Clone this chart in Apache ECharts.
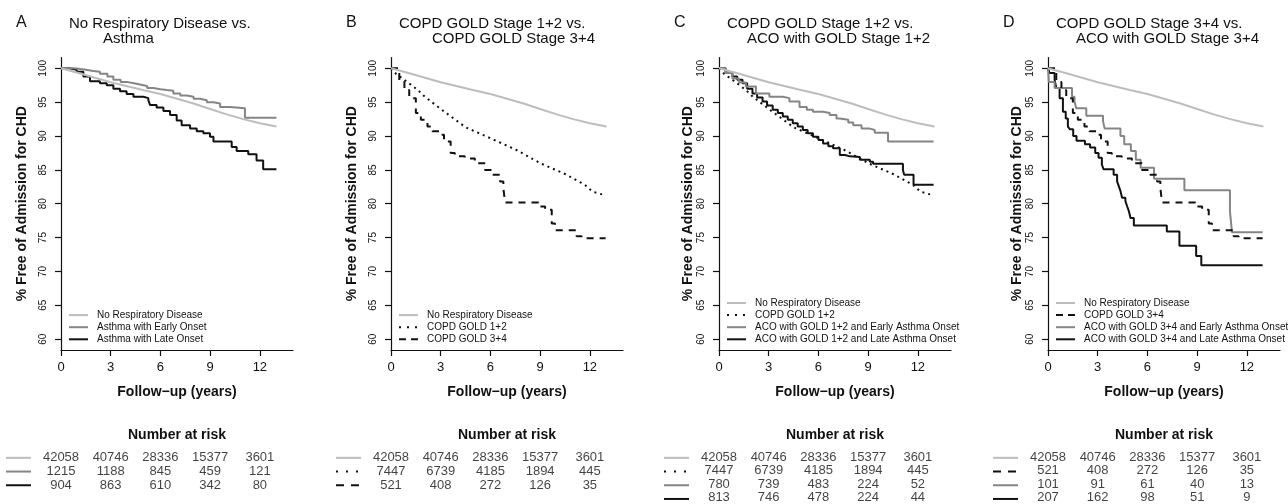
<!DOCTYPE html>
<html>
<head>
<meta charset="utf-8">
<script src="https://cdn.jsdelivr.net/npm/echarts@6/dist/echarts.min.js"></script>
<style>
  html, body { margin: 0; padding: 0; background: #fff; }
  #chart { width: 1288px; height: 504px; }
</style>
</head>
<body>
<div id="chart"></div>
<script>
// ---- data ----
var xTicks = [0, 3, 6, 9, 12];
var yTicks = [60, 65, 70, 75, 80, 85, 90, 95, 100];

// No respiratory disease (same curve in every panel)
var noRespTime = [0, 1, 2, 3, 4, 5, 6, 7, 8, 9, 10, 11, 12, 13];
var noRespSurv = [100, 99.35, 98.65, 97.95, 97.35, 96.75, 96.2, 95.5, 94.8, 94.0, 93.2, 92.5, 91.9, 91.4];

// A: asthma early / late onset
var earlyAsthmaTime = [0, 0.8, 1.5, 1.95, 2.35, 2.8, 3.16, 3.6, 3.96, 4.4, 4.77, 5.2, 5.57, 6.0, 6.38, 6.78, 7.2, 7.59, 8.0, 8.39, 8.8, 9.2, 9.6, 10.2, 11.1, 13.0];
var earlyAsthmaSurv = [100, 99.8, 99.6, 99.5, 99.2, 98.8, 98.3, 98.0, 97.8, 97.6, 97.4, 97.1, 96.9, 96.8, 96.7, 96.3, 96.0, 95.8, 95.5, 95.3, 95.0, 94.8, 94.3, 94.1, 92.7, 92.7];
var lateAsthmaTime = [0, 0.5, 0.95, 1.35, 1.75, 2.35, 2.76, 3.16, 3.56, 3.96, 4.37, 4.97, 5.27, 5.37, 5.77, 6.18, 6.58, 6.98, 7.28, 7.79, 8.19, 8.59, 8.99, 9.2, 10.3, 10.6, 11.3, 11.8, 12.2, 13.0];
var lateAsthmaSurv = [100, 99.8, 99.5, 98.8, 98.1, 97.8, 97.5, 97.0, 96.6, 96.2, 95.8, 95.6, 95.3, 94.6, 94.2, 93.7, 93.1, 92.3, 91.6, 91.1, 90.7, 90.4, 89.9, 89.2, 88.4, 87.8, 87.3, 86.4, 85.1, 85.1];

// COPD GOLD 1+2 and 3+4
var copd12Time = [0, 0.3, 0.81, 1.62, 2.0, 3.0, 4.5, 6.07, 7.6, 9.0, 10.5, 11.7, 12.15, 12.85];
var copd12Surv = [100, 99.2, 98.3, 96.8, 95.9, 94.0, 91.3, 89.6, 87.9, 86.0, 84.4, 82.8, 81.8, 81.3];
var copd34Time = [0, 0.5, 0.81, 1.1, 1.5, 1.8, 2.2, 2.5, 2.9, 3.2, 3.6, 3.85, 4.45, 5.06, 5.67, 6.07, 6.58, 6.78, 6.88, 8.9, 9.3, 9.7, 9.9, 11.2, 11.5, 12.95];
var copd34Surv = [100, 98.0, 96.8, 95.6, 93.4, 92.4, 91.4, 90.7, 90.2, 89.2, 87.5, 87.0, 86.7, 86.0, 85.0, 84.3, 83.3, 82.3, 80.2, 79.6, 79.1, 77.1, 76.1, 75.2, 74.9, 74.9];

// C: ACO with GOLD 1+2
var aco12EarlyTime = [0, 0.4, 0.81, 1.2, 1.62, 2.23, 3.04, 3.85, 4.25, 4.86, 5.3, 5.67, 6.28, 6.68, 7.09, 7.29, 7.8, 8.1, 8.6, 9.1, 9.4, 10.2, 12.95];
var aco12EarlySurv = [100, 99.3, 98.5, 97.9, 97.3, 96.3, 95.8, 95.6, 95.1, 94.3, 93.9, 93.6, 93.4, 93.1, 92.6, 92.4, 92.0, 91.6, 91.1, 90.9, 90.5, 89.2, 89.2];
var aco12LateTime = [0, 0.4, 0.81, 1.1, 1.42, 1.7, 2.02, 2.3, 2.63, 2.9, 3.24, 3.55, 3.85, 4.15, 4.45, 4.75, 5.06, 5.35, 5.67, 6.0, 6.28, 6.6, 6.88, 7.29, 7.6, 7.9, 8.5, 9.1, 9.3, 11.1, 11.17, 11.74, 12.95];
var aco12LateSurv = [100, 99.4, 98.8, 98.3, 97.8, 97.0, 96.3, 95.7, 95.1, 94.5, 93.9, 93.4, 92.9, 92.4, 91.9, 91.4, 90.9, 90.4, 89.9, 89.4, 88.9, 88.5, 88.2, 87.2, 87.0, 86.9, 86.5, 86.2, 85.9, 85.0, 84.3, 82.8, 82.8];

// D: ACO with GOLD 3+4
var aco34EarlyTime = [0, 0.05, 0.4, 1.45, 1.6, 1.7, 2.31, 3.32, 3.42, 4.37, 4.6, 5.0, 5.3, 5.59, 6.4, 8.23, 10.98, 11.1, 12.95];
var aco34EarlySurv = [100, 98.0, 97.1, 95.8, 95.1, 94.1, 93.0, 92.2, 91.1, 90.0, 88.8, 87.8, 86.5, 85.3, 83.7, 82.0, 78.9, 75.8, 75.8];
var aco34LateTime = [0, 0.1, 0.4, 0.5, 0.7, 0.9, 1.07, 1.2, 1.32, 1.52, 1.72, 2.23, 2.54, 2.85, 3.05, 3.25, 3.35, 3.96, 4.17, 4.27, 4.37, 4.47, 4.67, 4.78, 4.88, 4.98, 5.18, 7.17, 7.93, 8.94, 9.25, 12.95];
var aco34LateSurv = [100, 99.3, 98.3, 97.1, 95.6, 93.6, 92.6, 91.4, 91.0, 90.0, 89.3, 88.8, 88.3, 87.5, 86.8, 85.8, 85.1, 84.3, 83.3, 82.6, 81.9, 80.9, 80.4, 79.6, 78.9, 77.9, 76.8, 75.9, 73.8, 72.3, 70.9, 70.9];

// number at risk at 0,3,6,9,12 years
var riskNoResp = [42058, 40746, 28336, 15377, 3601];
var riskEarlyAsthma = [1215, 1188, 845, 459, 121];
var riskLateAsthma = [904, 863, 610, 342, 80];
var riskCopd12 = [7447, 6739, 4185, 1894, 445];
var riskCopd34 = [521, 408, 272, 126, 35];
var riskAco12Early = [780, 739, 483, 224, 52];
var riskAco12Late = [813, 746, 478, 224, 44];
var riskAco34Early = [101, 91, 61, 40, 13];
var riskAco34Late = [207, 162, 98, 51, 9];

// ---- styles ----
var FONT = '"Liberation Sans", Arial, Helvetica, sans-serif';
var INK = '#111';
var styles = {
  light: { color: '#bdbdbd', type: 'solid', legKey: null, tabKey: null },
  mid:   { color: '#858585', type: 'solid', legKey: null, tabKey: null },
  black: { color: INK, type: 'solid', legKey: null, tabKey: null },
  dot:   { color: INK, type: [2, 4], legKey: [2, 6], tabKey: [2, 8] },
  dash:  { color: INK, type: [7, 6], legKey: [7, 5], tabKey: [8, 7] }
};

function curve(name, time, surv, sty, step, risk) {
  return { name: name, time: time, surv: surv, sty: sty, step: step, risk: risk };
}

var panels = [
  { letter: 'A', left: 61, gap: 32, title: ['No Respiratory Disease vs.', 'Asthma'], indent: 34,
    curves: [
      curve('No Respiratory Disease', noRespTime, noRespSurv, 'light', false, riskNoResp),
      curve('Asthma with Early Onset', earlyAsthmaTime, earlyAsthmaSurv, 'mid', 'end', riskEarlyAsthma),
      curve('Asthma with Late Onset', lateAsthmaTime, lateAsthmaSurv, 'black', 'end', riskLateAsthma)
    ] },
  { letter: 'B', left: 391, gap: 32, title: ['COPD GOLD Stage 1+2 vs.', 'COPD GOLD Stage 3+4'], indent: 33,
    curves: [
      curve('No Respiratory Disease', noRespTime, noRespSurv, 'light', false, riskNoResp),
      curve('COPD GOLD 1+2', copd12Time, copd12Surv, 'dot', false, riskCopd12),
      curve('COPD GOLD 3+4', copd34Time, copd34Surv, 'dash', 'end', riskCopd34)
    ] },
  { letter: 'C', left: 719, gap: 24, title: ['COPD GOLD Stage 1+2 vs.', 'ACO with GOLD Stage 1+2'], indent: 20,
    curves: [
      curve('No Respiratory Disease', noRespTime, noRespSurv, 'light', false, riskNoResp),
      curve('COPD GOLD 1+2', copd12Time, copd12Surv, 'dot', false, riskCopd12),
      curve('ACO with GOLD 1+2 and Early Asthma Onset', aco12EarlyTime, aco12EarlySurv, 'mid', 'end', riskAco12Early),
      curve('ACO with GOLD 1+2 and Late Asthma Onset', aco12LateTime, aco12LateSurv, 'black', 'end', riskAco12Late)
    ] },
  { letter: 'D', left: 1048, gap: 24, title: ['COPD GOLD Stage 3+4 vs.', 'ACO with GOLD Stage 3+4'], indent: 20,
    curves: [
      curve('No Respiratory Disease', noRespTime, noRespSurv, 'light', false, riskNoResp),
      curve('COPD GOLD 3+4', copd34Time, copd34Surv, 'dash', 'end', riskCopd34),
      curve('ACO with GOLD 3+4 and Early Asthma Onset', aco34EarlyTime, aco34EarlySurv, 'mid', 'end', riskAco34Early),
      curve('ACO with GOLD 3+4 and Late Asthma Onset', aco34LateTime, aco34LateSurv, 'black', 'end', riskAco34Late)
    ] }
];

var PLOT_TOP = 57.5, PLOT_H = 292.5, PLOT_W = 232;
var TABLE_TOP = 451, ROW_H = 13.7;
var LEGEND_ROW = 12.1, LEGEND_LAST = 339.3;

var plotGrids = [], tableGrids = [], xAxis = [], yAxis = [], series = [], legend = [], graphic = [];

panels.forEach(function (p, i) {
  var n = p.curves.length;
  var ti = i + 4; // table grid index

  plotGrids.push({ left: p.left, top: PLOT_TOP, width: PLOT_W, height: PLOT_H });
  tableGrids.push({ left: p.left, top: TABLE_TOP, width: PLOT_W, height: ROW_H * n });

  xAxis[i] = {
    type: 'value', gridIndex: i, min: 0, max: 14,
    name: 'Follow\u2212up (years)', nameLocation: 'middle', nameGap: 35,
    nameTextStyle: { fontFamily: FONT, fontSize: 14, fontWeight: 'bold', color: INK },
    axisLine: { lineStyle: { color: INK, width: 1.2 } },
    axisTick: { show: true, length: 6, lineStyle: { color: INK, width: 1.2 }, customValues: xTicks },
    axisLabel: { fontFamily: FONT, fontSize: 13, color: INK, margin: 11, customValues: xTicks },
    splitLine: { show: false }
  };
  yAxis[i] = {
    type: 'value', gridIndex: i, min: 58.4, max: 101.6,
    name: '% Free of Admission for CHD', nameLocation: 'middle', nameGap: p.gap, nameRotate: 90,
    nameTextStyle: { fontFamily: FONT, fontSize: 14, fontWeight: 'bold', color: INK },
    axisLine: { show: true, lineStyle: { color: INK, width: 1.2 } },
    axisTick: { show: true, length: 6, lineStyle: { color: INK, width: 1.2 }, customValues: yTicks },
    axisLabel: { fontFamily: FONT, fontSize: 10, color: INK, rotate: 90, margin: 13, customValues: yTicks },
    splitLine: { show: false }
  };
  xAxis[ti] = { type: 'value', gridIndex: ti, min: 0, max: 14, show: false };
  yAxis[ti] = { type: 'category', gridIndex: ti, inverse: true, show: false,
    data: p.curves.map(function (c, k) { return 'row' + k; }) };

  var names = [];
  p.curves.forEach(function (c, k) {
    var s = styles[c.sty];
    names.push({ name: c.name, icon: 'none' });
    series.push({
      type: 'line', name: c.name, xAxisIndex: i, yAxisIndex: i,
      data: c.time.map(function (t, j) { return [t, c.surv[j]]; }),
      step: c.step, symbol: 'none', animation: false, silent: true,
      z: 10 - k,
      lineStyle: { color: s.color, width: 2, type: s.type },
      itemStyle: { color: s.color }
    });
    // number at risk row
    series.push({
      type: 'scatter', xAxisIndex: ti, yAxisIndex: ti, symbolSize: 1,
      itemStyle: { color: 'transparent' }, animation: false, silent: true,
      data: xTicks.map(function (t, j) { return [t, k, c.risk[j]]; }),
      label: { show: true, position: 'inside', fontFamily: FONT, fontSize: 13, color: INK,
        formatter: function (q) { return String(q.value[2]); } }
    });
    // key lines: legend inside the plot and row key in the table
    var yLeg = LEGEND_LAST - LEGEND_ROW * (n - 1 - k);
    graphic.push({ type: 'line', silent: true, z: 100,
      shape: { x1: p.left + 8, y1: yLeg, x2: p.left + 27, y2: yLeg },
      style: { stroke: s.color, lineWidth: 2, lineDash: s.legKey } });
    var yRow = TABLE_TOP + ROW_H * (k + 0.5);
    graphic.push({ type: 'line', silent: true,
      shape: { x1: p.left - 55, y1: yRow, x2: p.left - 30, y2: yRow },
      style: { stroke: s.color, lineWidth: 2, lineDash: s.tabKey } });
  });

  legend.push({
    orient: 'vertical', left: p.left + 8, top: LEGEND_LAST - LEGEND_ROW * (n - 1) - 5,
    padding: 0, itemWidth: 19, itemHeight: 10, itemGap: LEGEND_ROW - 10,
    selectedMode: false, data: names,
    textStyle: { fontFamily: FONT, fontSize: 10, color: INK, lineHeight: 10, padding: [0, 0, 0, 4] }
  });

  // panel letter and title
  graphic.push({ type: 'text', x: p.left - 45, y: 23, silent: true,
    style: { text: p.letter, fontFamily: FONT, fontSize: 16, fill: INK, align: 'left', verticalAlign: 'middle' } });
  graphic.push({ type: 'text', x: p.left + 8, y: 23.5, silent: true,
    style: { text: p.title[0], fontFamily: FONT, fontSize: 15, fill: INK, align: 'left', verticalAlign: 'middle' } });
  graphic.push({ type: 'text', x: p.left + 8 + p.indent, y: 38.5, silent: true,
    style: { text: p.title[1], fontFamily: FONT, fontSize: 15, fill: INK, align: 'left', verticalAlign: 'middle' } });
  graphic.push({ type: 'text', x: p.left + PLOT_W / 2, y: 435, silent: true,
    style: { text: 'Number at risk', fontFamily: FONT, fontSize: 14, fontWeight: 'bold', fill: INK, align: 'center', verticalAlign: 'middle' } });
});

var chart = echarts.init(document.getElementById('chart'), null, { renderer: 'canvas' });
chart.setOption({
  backgroundColor: '#fff',
  animation: false,
  textStyle: { fontFamily: FONT },
  grid: plotGrids.concat(tableGrids),
  xAxis: xAxis,
  yAxis: yAxis,
  legend: legend,
  series: series,
  graphic: graphic
});
</script>
</body>
</html>
